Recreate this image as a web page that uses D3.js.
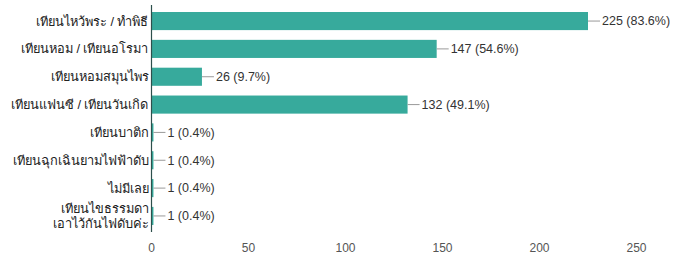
<!DOCTYPE html>
<html><head><meta charset="utf-8">
<script src="https://cdn.jsdelivr.net/npm/d3@7/dist/d3.min.js"></script>
<style>body{margin:0;background:#fff}svg{display:block}text{font-family:"Liberation Sans",Arial,sans-serif}</style>
</head><body>
<script>
const categories = [
  ["เทียนไหว้พระ / ทำพิธี"],
  ["เทียนหอม / เทียนอโรมา"],
  ["เทียนหอมสมุนไพร"],
  ["เทียนแฟนซี / เทียนวันเกิด"],
  ["เทียนบาติก"],
  ["เทียนฉุกเฉินยามไฟฟ้าดับ"],
  ["ไม่มีเลย"],
  ["เทียนไขธรรมดา", "เอาไว้กันไฟดับค่ะ"]
];
const counts = [225, 147, 26, 132, 1, 1, 1, 1];
const percents = ["83.6%", "54.6%", "9.7%", "49.1%", "0.4%", "0.4%", "0.4%", "0.4%"];
const xTicks = [0, 50, 100, 150, 200, 250];

const W = 676, H = 258;
const m = {left: 151.5, top: 7, bottom: 28};
const svg = d3.select("body").append("svg").attr("width", W).attr("height", H);
const x = d3.scaleLinear().domain([0, 250]).range([m.left, m.left + 485]);
const y = d3.scaleBand().domain(d3.range(categories.length)).range([m.top, H - m.bottom]).paddingInner(0.35).paddingOuter(0.18);

const g = svg.append("g");
g.selectAll("rect").data(counts).join("rect")
  .attr("x", x(0)).attr("y", (d, i) => y(i))
  .attr("width", d => x(d) - x(0)).attr("height", y.bandwidth())
  .attr("fill", "#37aa9c");

// leader lines
g.selectAll("line.lead").data(counts).join("line").attr("class", "lead")
  .attr("x1", d => x(d)).attr("x2", d => x(d) + 12)
  .attr("y1", (d, i) => y(i) + y.bandwidth() / 2).attr("y2", (d, i) => y(i) + y.bandwidth() / 2)
  .attr("stroke", "#999").attr("stroke-width", 1);

g.selectAll("text.val").data(counts).join("text").attr("class", "val")
  .attr("x", d => x(d) + 14).attr("y", (d, i) => y(i) + y.bandwidth() / 2)
  .attr("dy", "0.35em").attr("font-size", 12.5).attr("fill", "#333")
  .text((d, i) => `${d} (${percents[i]})`);

// category labels
const lab = g.selectAll("text.cat").data(categories).join("text").attr("class", "cat")
  .attr("text-anchor", "end").attr("font-size", 12.8).attr("fill", "#222")
  .attr("x", m.left - 3)
  .attr("y", (d, i) => y(i) + y.bandwidth() / 2);
lab.each(function(d) {
  const t = d3.select(this);
  const n = d.length;
  d.forEach((s, k) => {
    t.append("tspan").attr("x", m.left - 3)
      .attr("dy", k === 0 ? (0.35 - (n - 1) * 0.6) + "em" : "1.2em").text(s);
  });
});

// axis line
g.append("line").attr("x1", x(0)).attr("x2", x(0))
  .attr("y1", m.top - 2).attr("y2", H - m.bottom + 2)
  .attr("stroke", "#2d4f4c").attr("stroke-width", 1.2);

// x tick labels
g.selectAll("text.tick").data(xTicks).join("text").attr("class", "tick")
  .attr("x", d => x(d)).attr("y", H - 6).attr("text-anchor", "middle")
  .attr("font-size", 12).attr("fill", "#555").text(d => d);
</script>
</body></html>
